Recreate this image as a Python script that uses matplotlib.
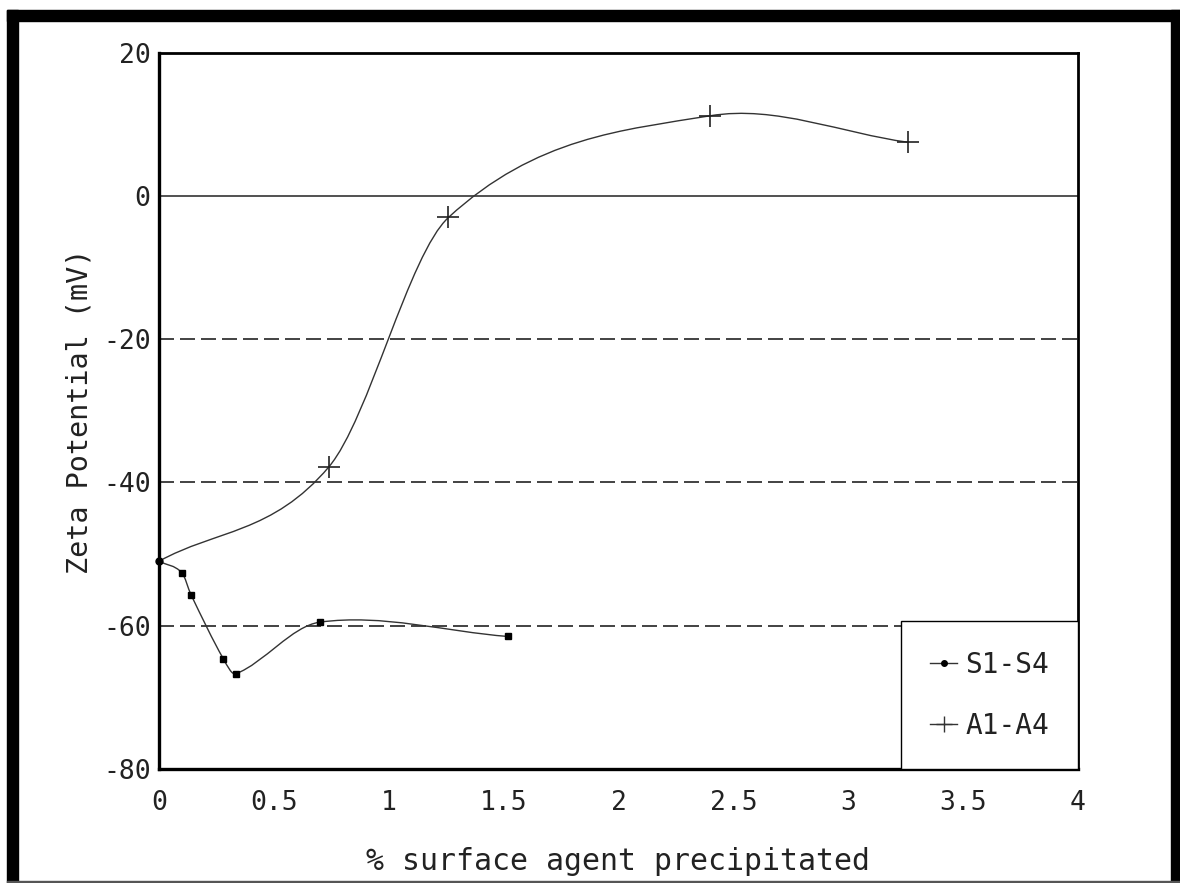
import numpy as np
import matplotlib
matplotlib.use("Agg")
import matplotlib.pyplot as plt
from matplotlib.path import Path
from matplotlib.patches import PathPatch, Rectangle
from matplotlib.lines import Line2D

# values
s_x = [0.0, 0.10, 0.14, 0.28, 0.335, 0.70, 1.52]
s_y = [-51.0, -52.6, -55.7, -64.6, -66.7, -59.5, -61.5]
a_x = [0.0, 0.74, 1.26, 2.40, 3.26]
a_y = [-51.0, -37.8, -3.0, 11.2, 7.5]

x_ticks = [0, 0.5, 1, 1.5, 2, 2.5, 3, 3.5, 4]
x_labels = ["0", "0.5", "1", "1.5", "2", "2.5", "3", "3.5", "4"]
y_ticks = [-80, -60, -40, -20, 0, 20]
dashed_levels = [-20, -40, -60]


def smooth_path(x, y):
    # smooth curve through the points (cardinal spline in x), as bezier segments
    x = np.asarray(x, float)
    y = np.asarray(y, float)
    n = len(x)
    d = np.zeros(n)
    d[0] = (y[1] - y[0]) / (x[1] - x[0])
    d[-1] = (y[-1] - y[-2]) / (x[-1] - x[-2])
    for i in range(1, n - 1):
        d[i] = (y[i + 1] - y[i - 1]) / (x[i + 1] - x[i - 1])
    verts = [(x[0], y[0])]
    codes = [Path.MOVETO]
    for i in range(n - 1):
        h = x[i + 1] - x[i]
        verts += [(x[i] + h / 3, y[i] + h * d[i] / 3),
                  (x[i + 1] - h / 3, y[i + 1] - h * d[i + 1] / 3),
                  (x[i + 1], y[i + 1])]
        codes += [Path.CURVE4] * 3
    return Path(verts, codes)


plt.rcParams["font.family"] = ["DejaVu Sans Mono", "DejaVu Sans"]
plt.rcParams["axes.unicode_minus"] = False

fig = plt.figure(figsize=(11.8, 8.83), dpi=100)
ax = fig.add_axes([0.1347, 0.1291, 0.7789, 0.8112])

for lv in dashed_levels:
    ax.axhline(lv, color="#222222", lw=1.2, dashes=(9, 3.6), zorder=1)
ax.axhline(0, color="#222222", lw=1.1, zorder=1)

ax.add_patch(PathPatch(smooth_path(a_x, a_y), fill=False, ec="#333333", lw=1.0, zorder=2))
ax.add_patch(PathPatch(smooth_path(s_x, s_y), fill=False, ec="#333333", lw=1.0, zorder=2))

ax.plot(a_x[1:], a_y[1:], ls="none", marker="+", ms=16, mew=1.2, color="#222222", zorder=3)
ax.plot(s_x[1:], s_y[1:], ls="none", marker="s", ms=3.8, color="black", zorder=3)
ax.plot(s_x[:1], s_y[:1], ls="none", marker="o", ms=5, color="black", zorder=4, clip_on=False)

ax.set_xlim(0, 4)
ax.set_ylim(-80, 20)
ax.set_xticks(x_ticks)
ax.set_xticklabels(x_labels)
ax.set_yticks(y_ticks)
ax.tick_params(length=0, labelsize=19, labelcolor="#222222")
ax.tick_params(axis="x", pad=15)
ax.tick_params(axis="y", pad=6)
for sp in ax.spines.values():
    sp.set_linewidth(2.0)
ax.spines["left"].set_linewidth(2.4)
ax.spines["bottom"].set_linewidth(2.4)

ax.set_xlabel("% surface agent precipitated", fontsize=21.5, color="#222222")
ax.set_ylabel("Zeta Potential (mV)", fontsize=20.5, color="#222222")
ax.xaxis.set_label_coords(0.5, -0.109)
ax.yaxis.set_label_coords(-0.071, 0.5)

handles = [
    Line2D([], [], color="#333333", lw=1.0, marker="o", ms=4, mfc="black", mec="black"),
    Line2D([], [], color="#333333", lw=1.0, marker="+", ms=12, mew=1.0),
]
leg = ax.legend(handles, ["S1-S4", "A1-A4"], loc="lower right", bbox_to_anchor=(1, 0),
                borderaxespad=0, fontsize=20, handlelength=0.95, handletextpad=0.3,
                borderpad=1.05, labelspacing=1.2, fancybox=False, framealpha=1,
                edgecolor="black")
leg.get_frame().set_linewidth(1.0)
for t in leg.get_texts():
    t.set_color("#222222")

# scanned page frame
W, H = 1180, 883
fig.patches.append(Rectangle((7 / W, 0), 11 / W, 1 - 10 / H, transform=fig.transFigure,
                             color="black", zorder=10))
fig.patches.append(Rectangle((7 / W, 1 - 21 / H), 1 - 7 / W, 11 / H, transform=fig.transFigure,
                             color="black", zorder=10))
fig.patches.append(Rectangle((1171 / W, 0), 9 / W, 1 - 10 / H, transform=fig.transFigure,
                             color="black", zorder=10))
fig.patches.append(Rectangle((7 / W, 1 / H), 1 - 7 / W, 1.5 / H, transform=fig.transFigure,
                             color="#555555", zorder=10))

fig.savefig("out.png", dpi=100)
